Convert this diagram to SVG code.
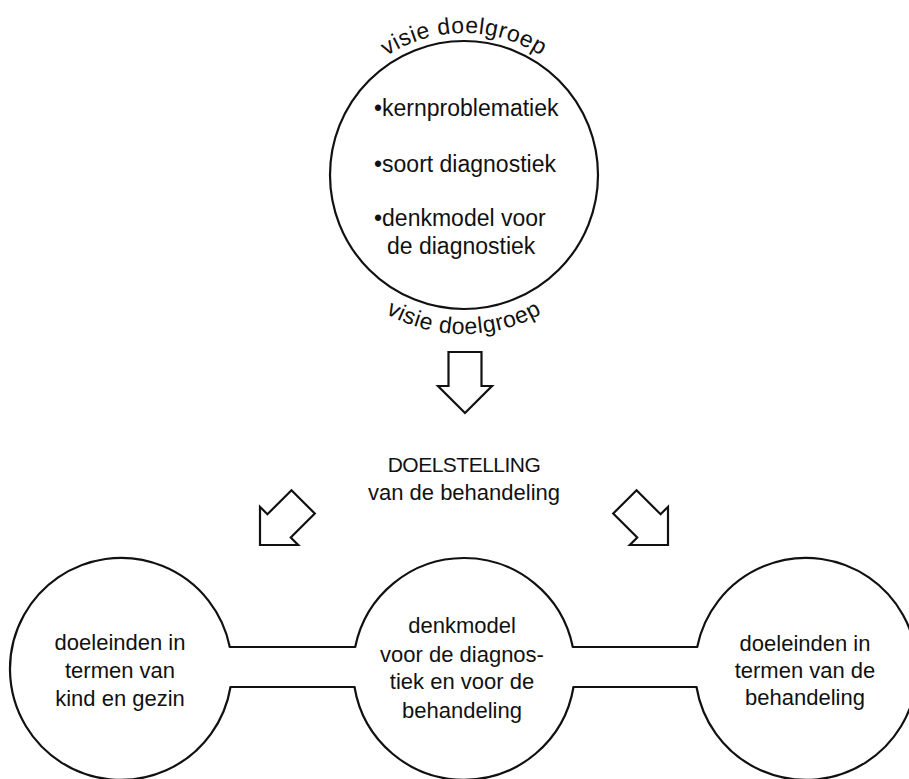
<svg xmlns="http://www.w3.org/2000/svg" width="909" height="779" viewBox="0 0 909 779">
  <style>
    text { font-family: "Liberation Sans", Arial, sans-serif; fill: #111; }
    .ring { fill: none; stroke: #111; stroke-width: 2.2; }
    .link { fill: none; stroke: #111; stroke-width: 2.2; stroke-linecap: round; }
    .block { fill: #fff; stroke: #111; stroke-width: 2.2; stroke-linejoin: miter; }
    .item { font-size: 23px; }
    .label { font-size: 22px; text-anchor: middle; }
    .arc { font-size: 23px; letter-spacing: 0.6px; }
  </style>
  <defs>
    <!-- block arrow pointing down, tip at the origin -->
    <polygon id="blockArrow" points="-16.5,-61 16.5,-61 16.5,-27 27,-27 0,0 -27,-27 -16.5,-27"/>
    <!-- baselines for the curved captions round the top circle -->
    <path id="arcTop" d="M 322 175 A 142 142 0 0 1 606 175"/>
    <path id="arcBottom" d="M 305 175 A 159 159 0 0 0 623 175"/>
  </defs>

  <rect width="909" height="779" fill="#fff"/>

  <!-- top circle: vision of the target group -->
  <g id="visie">
    <circle class="ring" cx="464" cy="175" r="134"/>
    <text class="arc"><textPath href="#arcTop" startOffset="50%" text-anchor="middle">visie doelgroep</textPath></text>
    <text class="arc"><textPath href="#arcBottom" startOffset="50%" text-anchor="middle">visie doelgroep</textPath></text>
    <text class="item" x="374" y="116">•kernproblematiek</text>
    <text class="item" x="374" y="172">•soort diagnostiek</text>
    <text class="item" x="374" y="226">•denkmodel voor</text>
    <text class="item" x="387" y="254">de diagnostiek</text>
  </g>

  <!-- central heading -->
  <g id="doelstelling">
    <text class="label" x="464" y="472" style="font-size:21px;letter-spacing:-0.5px">DOELSTELLING</text>
    <text class="label" x="464" y="500">van de behandeling</text>
  </g>

  <!-- bottom row: three circles joined by open channels -->
  <g id="kind-gezin">
    <path class="ring" d="M 229.8 647 A 111 111 0 1 0 230.5 687"/>
    <text class="label" x="120" y="650">doeleinden in</text>
    <text class="label" x="120" y="678">termen van</text>
    <text class="label" x="120" y="706">kind en gezin</text>
  </g>

  <g id="denkmodel">
    <path class="ring" d="M 355.2 647 A 111 111 0 0 1 572.8 647"/>
    <path class="ring" d="M 573.5 687 A 111 111 0 0 1 354.5 687"/>
    <text class="label" x="462" y="633">denkmodel</text>
    <text class="label" x="462" y="662">voor de diagnos-</text>
    <text class="label" x="462" y="689">tiek en voor de</text>
    <text class="label" x="462" y="718">behandeling</text>
  </g>

  <g id="behandeling">
    <path class="ring" d="M 697.2 647 A 111 111 0 1 1 696.5 687"/>
    <text class="label" x="805" y="651">doeleinden in</text>
    <text class="label" x="805" y="678">termen van de</text>
    <text class="label" x="805" y="705">behandeling</text>
  </g>

  <!-- connectors: block arrows and the channel walls -->
  <g id="connectors">
    <use href="#blockArrow" class="block" transform="translate(465,413)"/>
    <use href="#blockArrow" class="block" transform="translate(260,545) rotate(45)"/>
    <use href="#blockArrow" class="block" transform="translate(668,545) rotate(-45)"/>
    <line class="link" x1="229.8" y1="647" x2="355.2" y2="647"/>
    <line class="link" x1="230.5" y1="687" x2="354.5" y2="687"/>
    <line class="link" x1="572.8" y1="647" x2="697.2" y2="647"/>
    <line class="link" x1="573.5" y1="687" x2="696.5" y2="687"/>
  </g>
</svg>
